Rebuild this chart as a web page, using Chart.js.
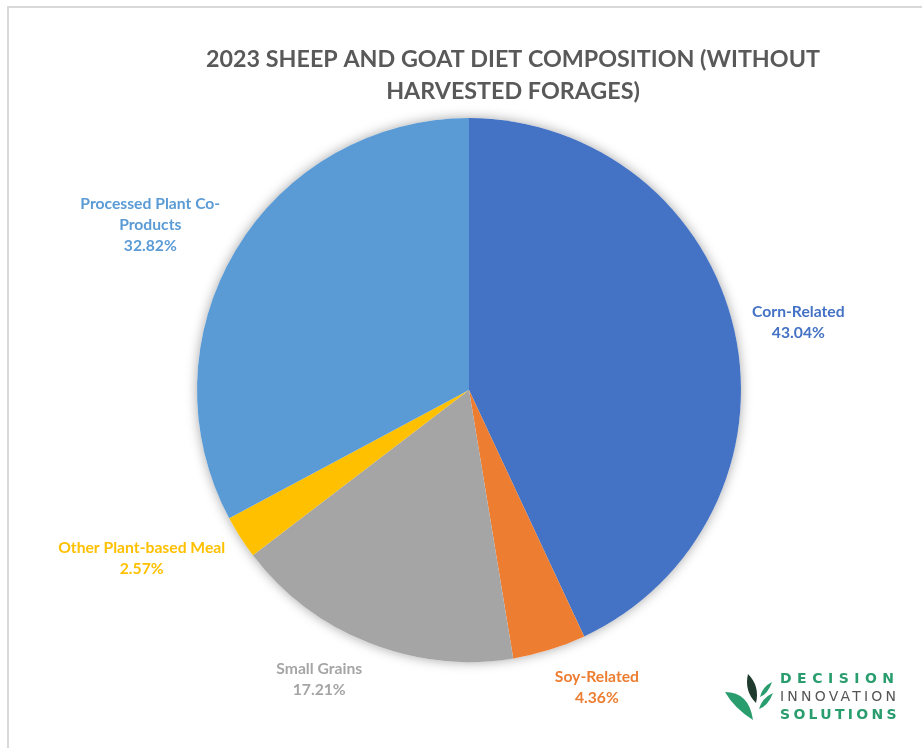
<!DOCTYPE html>
<html>
<head>
<meta charset="utf-8">
<script src="https://cdn.jsdelivr.net/npm/chart.js@4.4.1/dist/chart.umd.min.js"></script>
<style>
  html, body { margin: 0; padding: 0; background: #fff; overflow: hidden; }
  #frame {
    position: absolute; left: 7px; top: 6px; width: 960px; height: 780px;
    border-left: 2px solid #d9d9d9; border-top: 2px solid #d9d9d9;
  }
  canvas { position: absolute; left: 0; top: 0; }
</style>
</head>
<body>
<div id="frame"><canvas id="dietChart" width="913" height="740"></canvas></div>
<script>
const categories = [
  'Corn-Related',
  'Soy-Related',
  'Small Grains',
  'Other Plant-based Meal',
  ['Processed Plant Co-', 'Products']
];
const shares = [43.04, 4.36, 17.21, 2.57, 32.82];
const sliceColors = ['#4472C4', '#ED7D31', '#A5A5A5', '#FFC000', '#5B9BD5'];
const titleLines = ['2023 SHEEP AND GOAT DIET COMPOSITION (WITHOUT', 'HARVESTED FORAGES)'];

// soft shadow under the whole pie, drawn as one white disc so slices don't shade each other
const pieShadow = {
  id: 'pieShadow',
  beforeDatasetsDraw(chart) {
    const arc = chart.getDatasetMeta(0).data[0];
    if (!arc) return;
    const { x, y, outerRadius } = arc.getProps(['x', 'y', 'outerRadius'], true);
    const ctx = chart.ctx;
    ctx.save();
    ctx.shadowColor = 'rgba(0,0,0,0.35)';
    ctx.shadowBlur = 12;
    ctx.fillStyle = '#fff';
    ctx.beginPath();
    ctx.arc(x, y, outerRadius, 0, Math.PI * 2);
    ctx.fill();
    ctx.restore();
  }
};

// Excel-style outside labels: category + percent, in the slice colour.
// The box's inner corner sits just outside the slice's middle.
const sliceLabels = {
  id: 'sliceLabels',
  afterDatasetsDraw(chart) {
    const ctx = chart.ctx;
    const ds = chart.data.datasets[0];
    const lineH = 21;
    const gap = 18;
    ctx.save();
    ctx.font = 'bold 15.7px Lato';
    ctx.textAlign = 'center';
    ctx.textBaseline = 'middle';
    chart.getDatasetMeta(0).data.forEach((arc, i) => {
      const { x, y, startAngle, endAngle, outerRadius } =
        arc.getProps(['x', 'y', 'startAngle', 'endAngle', 'outerRadius'], true);
      const mid = (startAngle + endAngle) / 2;
      const lines = [].concat(chart.data.labels[i], ds.data[i].toFixed(2) + '%');
      const w = Math.max(...lines.map(l => ctx.measureText(l).width));
      const h = lines.length * lineH;
      const dx = Math.cos(mid), dy = Math.sin(mid);
      const cx = x + dx * (outerRadius + gap) + Math.sign(dx) * w / 2;
      const cy = y + dy * (outerRadius + gap) + dy * h / 2;
      ctx.fillStyle = ds.backgroundColor[i];
      lines.forEach((l, k) => {
        ctx.fillText(l, cx, cy - h / 2 + lineH / 2 + k * lineH);
      });
    });
    ctx.restore();
  }
};

// title sits off the pie's centre line (the original chart is cropped on the right)
const titleText = {
  id: 'titleText',
  afterDraw(chart) {
    const ctx = chart.ctx;
    ctx.save();
    ctx.font = 'bold 23.3px Lato';
    ctx.fillStyle = '#595959';
    ctx.textAlign = 'center';
    ctx.textBaseline = 'middle';
    titleLines.forEach((t, k) => ctx.fillText(t, 504, 51 + k * 32));
    ctx.restore();
  }
};

// company logo, bottom right
const logo = {
  id: 'logo',
  afterDraw(chart) {
    const ctx = chart.ctx;
    ctx.save();
    // leaves
    ctx.fillStyle = '#2a9d6e';
    ctx.beginPath();
    ctx.moveTo(716, 684);
    ctx.quadraticCurveTo(740, 684, 744, 712);
    ctx.quadraticCurveTo(725, 700, 716, 684);
    ctx.fill();
    ctx.fillStyle = '#1f3b2e';
    ctx.beginPath();
    ctx.moveTo(739, 666);
    ctx.quadraticCurveTo(751, 678, 747, 695);
    ctx.quadraticCurveTo(735, 683, 739, 666);
    ctx.fill();
    ctx.fillStyle = '#2a9d6e';
    ctx.beginPath();
    ctx.moveTo(763, 674);
    ctx.quadraticCurveTo(759, 686, 751, 689);
    ctx.quadraticCurveTo(753, 679, 763, 674);
    ctx.fill();
    ctx.beginPath();
    ctx.moveTo(764, 685);
    ctx.quadraticCurveTo(759, 698, 750, 701);
    ctx.quadraticCurveTo(753, 690, 764, 685);
    ctx.fill();
    // words
    ctx.textAlign = 'left';
    ctx.textBaseline = 'middle';
    ctx.font = 'bold 14px "DejaVu Sans"';
    ctx.fillStyle = '#2a9d6e';
    ctx.letterSpacing = '5.5px';
    ctx.fillText('DECISION', 771, 671);
    ctx.letterSpacing = '3.3px';
    ctx.fillText('SOLUTIONS', 771, 707);
    ctx.font = '14px "DejaVu Sans"';
    ctx.fillStyle = '#555';
    ctx.letterSpacing = '3.2px';
    ctx.fillText('INNOVATION', 771, 689);
    ctx.restore();
  }
};

new Chart(document.getElementById('dietChart').getContext('2d'), {
  type: 'pie',
  data: {
    labels: categories,
    datasets: [{
      data: shares,
      backgroundColor: sliceColors,
      borderWidth: 0
    }]
  },
  options: {
    responsive: false,
    animation: false,
    layout: { padding: { top: 110, bottom: 86, left: 188, right: 181 } },
    plugins: {
      legend: { display: false },
      title: { display: false },
      tooltip: { enabled: false }
    }
  },
  plugins: [pieShadow, sliceLabels, titleText, logo]
});
</script>
</body>
</html>
